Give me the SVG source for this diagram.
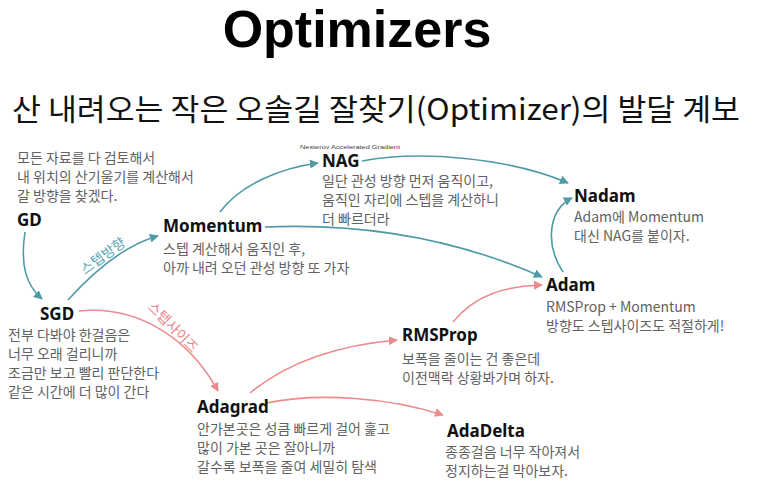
<svg xmlns="http://www.w3.org/2000/svg" width="765" height="492" viewBox="0 0 765 492">
<style>
.title{font-family:"Liberation Sans",Arial,sans-serif;font-weight:bold;font-size:52px;fill:#000}
.sub{font-family:"Noto Sans CJK KR","Noto Sans",sans-serif;font-weight:400;font-size:30px;fill:#111}
.lbl{font-family:"Noto Sans","Noto Sans CJK KR",sans-serif;font-weight:bold;font-size:17px;fill:#111}
.desc{font-family:"Noto Sans CJK KR","Noto Sans",sans-serif;font-size:14px;fill:#626262}
.tiny{font-family:"Liberation Sans",Arial,sans-serif;font-size:6px;fill:#444}
.t{fill:none;stroke:#4e9aa6;stroke-width:1.6}
.r{fill:none;stroke:#ec8a8c;stroke-width:1.6}
.tl{font-family:"Noto Sans CJK KR",sans-serif;font-size:14px;fill:#5aa3b3}
.rl{font-family:"Noto Sans CJK KR",sans-serif;font-size:14px;fill:#e8858a}
</style>
<defs>
<marker id="at" viewBox="0 0 10 10" refX="9" refY="5" markerWidth="9" markerHeight="9" markerUnits="userSpaceOnUse" orient="auto"><path d="M0,0 L10,5 L0,10 z" fill="#4e9aa6"/></marker>
<marker id="ar" viewBox="0 0 10 10" refX="9" refY="5" markerWidth="9" markerHeight="9" markerUnits="userSpaceOnUse" orient="auto"><path d="M0,0 L10,5 L0,10 z" fill="#ec8a8c"/></marker>
</defs>
<rect width="765" height="492" fill="#fff"/>
<text class="title" x="357" y="47" text-anchor="middle">Optimizers</text>
<text class="sub" x="12" y="120" textLength="728" lengthAdjust="spacingAndGlyphs">산 내려오는 작은 오솔길 잘찾기(Optimizer)의 발달 계보</text>

<g id="connectors">
<path class="t" d="M25,232 C20,265 26,285 42,299" marker-end="url(#at)"/>
<path class="t" d="M68,300 C95,270 125,245 158,236" marker-end="url(#at)"/>
<path class="t" d="M220,212 C240,185 280,168 318,163" marker-end="url(#at)"/>
<path class="t" d="M362,161 C420,150 510,158 568,183" marker-end="url(#at)"/>
<path class="t" d="M265,227 C380,222 470,245 542,277" marker-end="url(#at)"/>
<path class="t" d="M563,272 C545,245 548,210 572,198" marker-end="url(#at)"/>
<path class="r" d="M79,311 C140,305 190,340 218,391" marker-end="url(#ar)"/>
<path class="r" d="M250,393 C290,360 340,345 397,340" marker-end="url(#ar)"/>
<path class="r" d="M266,403 C320,392 390,398 443,415" marker-end="url(#ar)"/>
<path class="r" d="M453,322 C475,295 505,286 542,285" marker-end="url(#ar)"/>
<text class="tl" x="103" y="261" text-anchor="middle" transform="rotate(-36 103 256)">스텝방향</text>
<text class="rl" x="173" y="332" text-anchor="middle" transform="rotate(45 173 327)">스텝사이즈</text>
</g>

<g id="GD">
<text class="desc" x="17" y="163">모든 자료를 다 검토해서</text>
<text class="desc" x="17" y="182">내 위치의 산기울기를 계산해서</text>
<text class="desc" x="17" y="201">갈 방향을 찾겠다.</text>
<text class="lbl" x="17" y="226">GD</text>
</g>
<g id="SGD">
<text class="lbl" x="40" y="320">SGD</text>
<text class="desc" x="8" y="340">전부 다봐야 한걸음은</text>
<text class="desc" x="8" y="359">너무 오래 걸리니까</text>
<text class="desc" x="8" y="378">조금만 보고 빨리 판단한다</text>
<text class="desc" x="8" y="397">같은 시간에 더 많이 간다</text>
</g>
<g id="Momentum">
<text class="lbl" x="163" y="232">Momentum</text>
<text class="desc" x="163" y="254">스텝 계산해서 움직인 후,</text>
<text class="desc" x="163" y="273">아까 내려 오던 관성 방향 또 가자</text>
</g>
<g id="NAG">
<text class="tiny" x="300" y="149" textLength="100" lengthAdjust="spacingAndGlyphs">Nesterov Accelerated Gradient</text>
<text class="lbl" x="322" y="167">NAG</text>
<text class="desc" x="322" y="186">일단 관성 방향 먼저 움직이고,</text>
<text class="desc" x="322" y="205">움직인 자리에 스텝을 계산하니</text>
<text class="desc" x="322" y="224">더 빠르더라</text>
</g>
<g id="Nadam">
<text class="lbl" x="574" y="202">Nadam</text>
<text class="desc" x="574" y="222">Adam에 Momentum</text>
<text class="desc" x="574" y="241">대신 NAG를 붙이자.</text>
</g>
<g id="Adam">
<text class="lbl" x="546" y="291">Adam</text>
<text class="desc" x="546" y="312">RMSProp + Momentum</text>
<text class="desc" x="546" y="331">방향도 스텝사이즈도 적절하게!</text>
</g>
<g id="RMSProp">
<text class="lbl" x="402" y="341">RMSProp</text>
<text class="desc" x="402" y="364">보폭을 줄이는 건 좋은데</text>
<text class="desc" x="402" y="383">이전맥락 상황봐가며 하자.</text>
</g>
<g id="Adagrad">
<text class="lbl" x="197" y="413">Adagrad</text>
<text class="desc" x="197" y="434">안가본곳은 성큼 빠르게 걸어 훑고</text>
<text class="desc" x="197" y="453">많이 가본 곳은 잘아니까</text>
<text class="desc" x="197" y="472">갈수록 보폭을 줄여 세밀히 탐색</text>
</g>
<g id="AdaDelta">
<text class="lbl" x="447" y="437">AdaDelta</text>
<text class="desc" x="445" y="457">종종걸음 너무 작아져서</text>
<text class="desc" x="445" y="476">정지하는걸 막아보자.</text>
</g>
</svg>
